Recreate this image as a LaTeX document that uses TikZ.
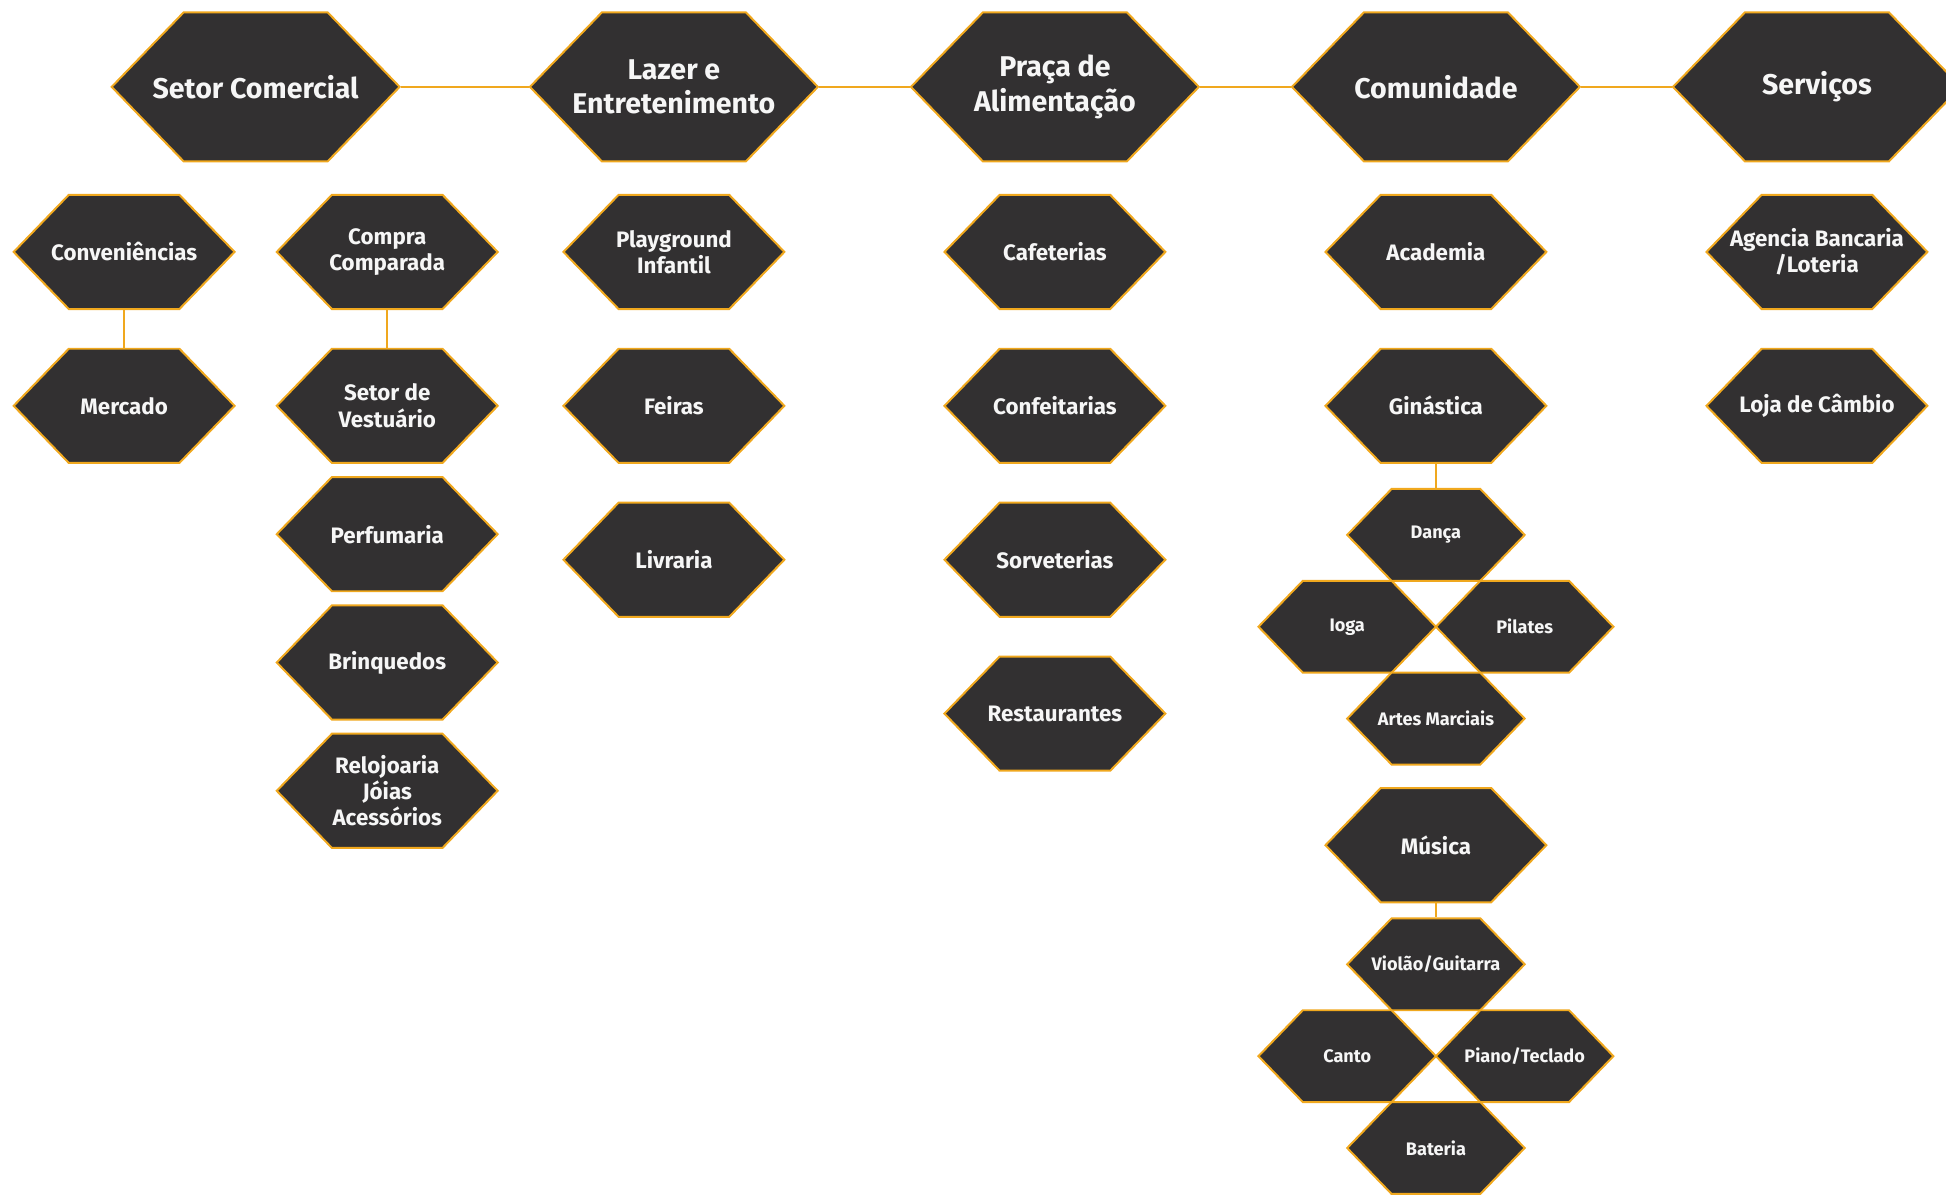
\documentclass[tikz,border=0pt]{standalone}
\usepackage{fontspec}
\setmainfont{Fira Sans}
\usetikzlibrary{positioning,shapes.symbols}

\definecolor{hexfill}{RGB}{50,48,49}
\definecolor{hexline}{RGB}{240,168,30}
\definecolor{hextext}{RGB}{246,246,246}

\begin{document}
\begin{tikzpicture}[node distance= 62pt,
    hexbase/.style={signal, signal to=east and west, signal pointer angle=92,
      draw=hexline, fill=hexfill, line width=0.8pt, text=hextext, align=center,
      inner ysep=0pt, inner xsep=-20pt},
    bighex/.style={hexbase, minimum width=116pt, minimum height=60pt,
      font=\bfseries\fontsize{11.5}{14}\selectfont},
    midhex/.style={hexbase, minimum width=89pt, minimum height=46pt,
      font=\bfseries\fontsize{9}{10.6}\selectfont},
    smallhex/.style={hexbase, minimum width=71.5pt, minimum height=37pt,
      font=\bfseries\fontsize{7.3}{9}\selectfont},
    link/.style={draw=hexline, line width=0.9pt}]
  \useasboundingbox (0,0) rectangle (784pt,-481.5pt);

  % top row
  \node[bighex] (setor) at (103pt,-35pt) {Setor Comercial};
  \node[bighex, right of= setor, node distance=168.5pt] (lazer) {Lazer e\\Entretenimento};
  \node[bighex, right of= lazer, node distance=153.5pt] (praca) {Praça de\\Alimentação};
  \node[bighex, right of= praca, node distance=153.5pt] (comunidade) {Comunidade};
  \node[bighex, right of= comunidade, node distance=153.5pt] (servicos) {Serviços};

  % setor comercial
  \node[midhex] (conv) at (50pt,-101.5pt) {Conveniências};
  \node[midhex, below of= conv] (mercado) {Mercado};
  \node[midhex] (compra) at (156pt,-101.5pt) {Compra\\Comparada};
  \node[midhex, below of= compra] (vestuario) {Setor de\\Vestuário};
  \begin{scope}[node distance=51.7pt]
    \node[midhex, below of= vestuario] (perfumaria) {Perfumaria};
    \node[midhex, below of= perfumaria] (brinquedos) {Brinquedos};
    \node[midhex, below of= brinquedos] (relojoaria) {Relojoaria\\Jóias\\Acessórios};
  \end{scope}

  % lazer
  \node[midhex, below of= lazer, node distance=66.5pt] (playground) {Playground\\Infantil};
  \node[midhex, below of= playground] (feiras) {Feiras};
  \node[midhex, below of= feiras] (livraria) {Livraria};

  % alimentacao
  \node[midhex, below of= praca, node distance=66.5pt] (cafeterias) {Cafeterias};
  \node[midhex, below of= cafeterias] (confeitarias) {Confeitarias};
  \node[midhex, below of= confeitarias] (sorveterias) {Sorveterias};
  \node[midhex, below of= sorveterias] (restaurantes) {Restaurantes};

  % comunidade
  \node[midhex, below of= comunidade, node distance=66.5pt] (academia) {Academia};
  \node[midhex, below of= academia] (ginastica) {Ginástica};
  \node[smallhex, below of= ginastica, node distance=52pt] (danca) {Dança};
  \node[smallhex, below of= danca, node distance=37pt, xshift=-35.75pt] (ioga) {Ioga};
  \node[smallhex, below of= danca, node distance=37pt, xshift=35.75pt] (pilates) {Pilates};
  \node[smallhex, below of= danca, node distance=74pt] (artes) {Artes Marciais};
  \node[midhex, below of= artes, node distance=51pt] (musica) {Música};
  \node[smallhex, below of= musica, node distance=48pt] (violao) {Violão/Guitarra};
  \node[smallhex, below of= violao, node distance=37pt, xshift=-35.75pt] (canto) {Canto};
  \node[smallhex, below of= violao, node distance=37pt, xshift=35.75pt] (piano) {Piano/Teclado};
  \node[smallhex, below of= violao, node distance=74pt] (bateria) {Bateria};

  % servicos
  \node[midhex, below of= servicos, node distance=66.5pt] (agencia) {Agencia Bancaria\\/Loteria};
  \node[midhex, below of= agencia] (cambio) {Loja de Câmbio};

  \path[link] (setor.east) -- (lazer.west);
  \path[link] (lazer.east) -- (praca.west);
  \path[link] (praca.east) -- (comunidade.west);
  \path[link] (comunidade.east) -- (servicos.west);
  \path[link] (conv.south) -- (mercado.north);
  \path[link] (compra.south) -- (vestuario.north);
  \path[link] (ginastica.south) -- (danca.north);
  \path[link] (musica.south) -- (violao.north);
\end{tikzpicture}
\end{document}
